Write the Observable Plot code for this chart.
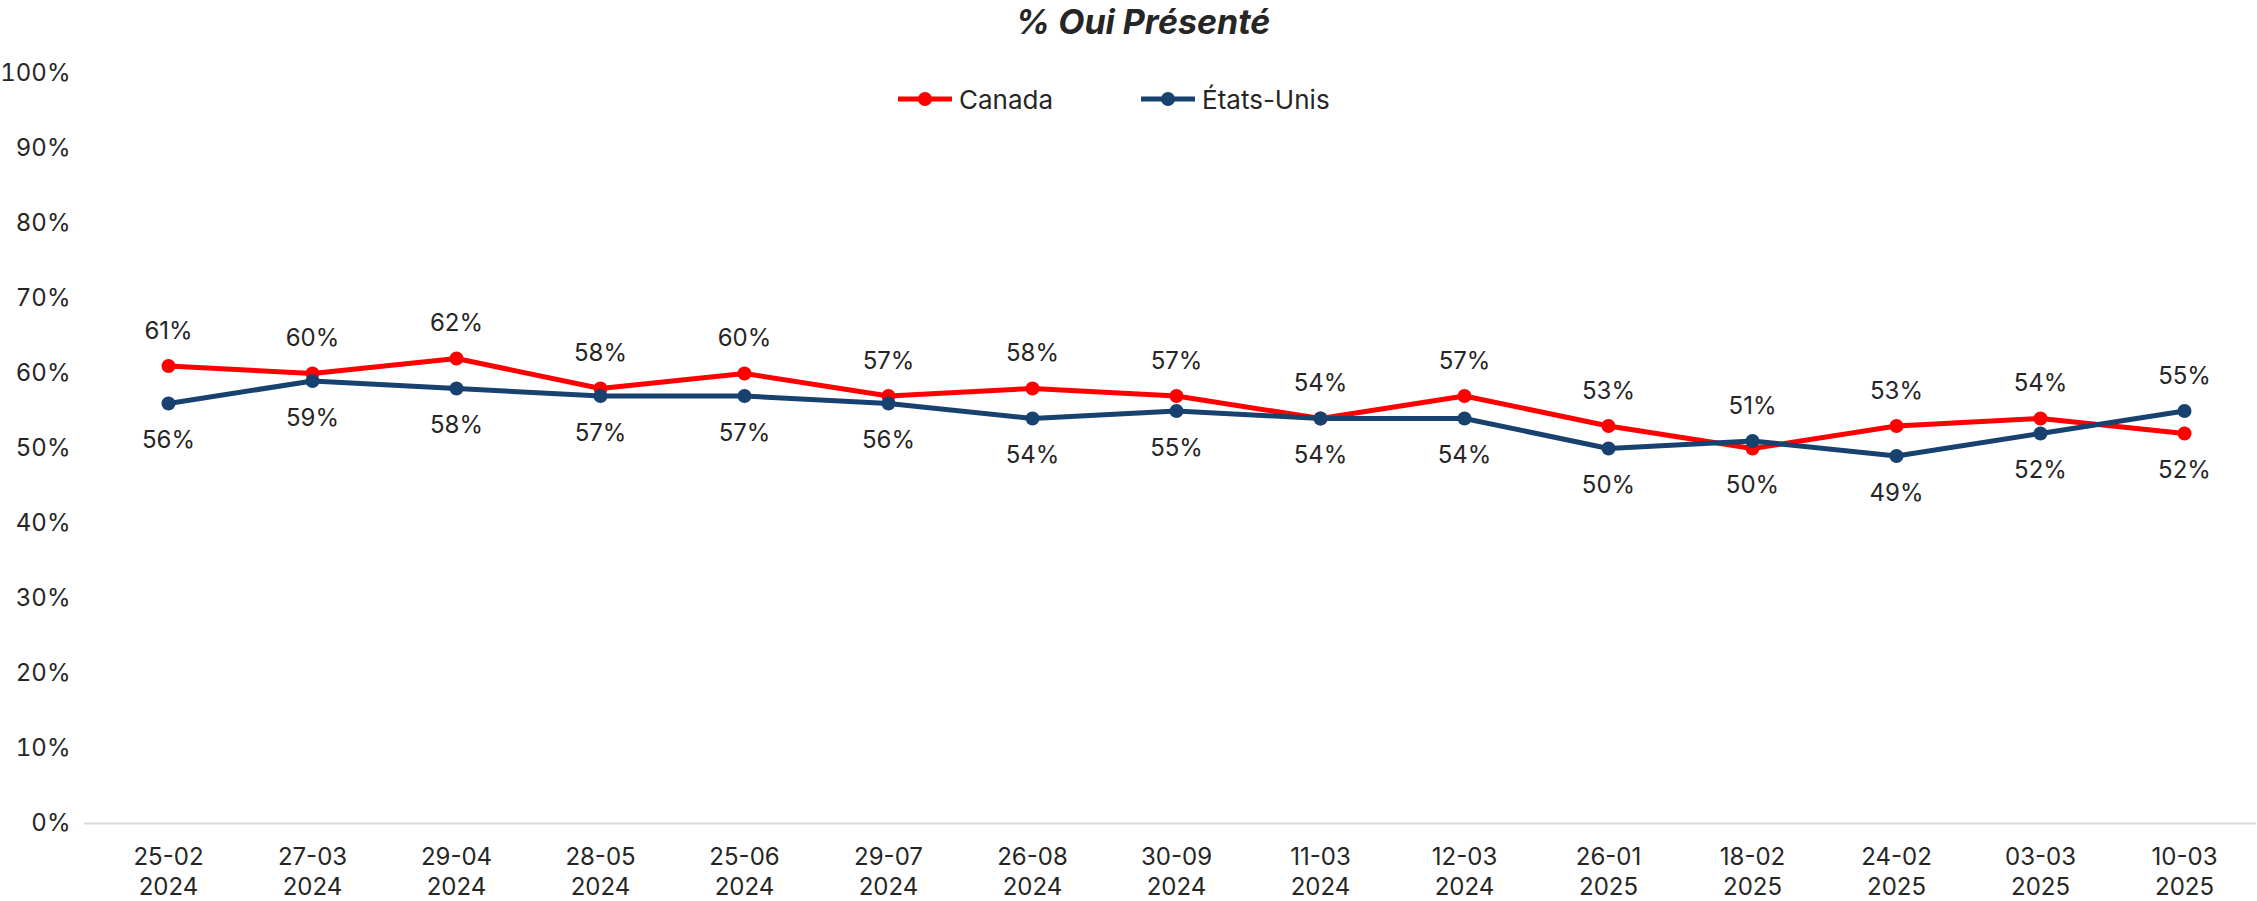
<!DOCTYPE html>
<html>
<head>
<meta charset="utf-8">
<script src="https://cdn.jsdelivr.net/npm/d3@7"></script>
<script src="https://cdn.jsdelivr.net/npm/@observablehq/plot@0.6"></script>
<style>
  html, body { margin: 0; padding: 0; background: #fff; }
  body { width: 2257px; height: 901px; position: relative; overflow: hidden; font-family: Inter, "Open Sans", sans-serif; color: #262626; }
  #title { height: 44px; line-height: 44px; text-align: center; font-size: 34px; font-weight: 700; font-style: italic; padding-left: 29px; }
  #legend { position: absolute; top: 82px; left: 898px; display: flex; align-items: center; font-size: 26px; height: 34px; }
  .item { display: flex; align-items: center; }
  .item svg { margin-right: 5px; }
</style>
</head>
<body>
<div id="title">% Oui Présenté</div>
<div id="legend"></div>
<div id="chart"></div>
<script>
const dates = ["25-02","27-03","29-04","28-05","25-06","29-07","26-08","30-09","11-03","12-03","26-01","18-02","24-02","03-03","10-03"];
const years = ["2024","2024","2024","2024","2024","2024","2024","2024","2024","2024","2025","2025","2025","2025","2025"];
const canada = [61,60,62,58,60,57,58,57,54,57,53,50,53,54,52];
const usa = [56,59,58,57,57,56,54,55,54,54,50,51,49,52,55];
const seriesNames = ["Canada", "États-Unis"];
const seriesColors = ["#ff0000", "#17416f"];

const keys = dates.map((d, i) => d + "\n" + years[i]);
const rows = [];
keys.forEach((k, i) => {
  rows.push({key: k, series: "Canada", value: canada[i] / 100, above: canada[i] >= usa[i]});
  rows.push({key: k, series: "États-Unis", value: usa[i] / 100, above: usa[i] > canada[i]});
});

const chart = Plot.plot({
  width: 2257,
  height: 857,
  marginLeft: 96,
  marginRight: 1,
  marginTop: 29,
  marginBottom: 78,
  style: {fontFamily: "Inter, 'Open Sans', sans-serif", fontSize: "24px", color: "#262626", background: "#fff"},
  x: {type: "band", domain: keys, padding: 0},
  y: {domain: [0, 1]},
  color: {domain: seriesNames, range: seriesColors},
  marks: [
    Plot.axisY({ticks: d3.range(0, 1.0001, 0.1), tickFormat: d3.format(".0%"), tickSize: 0, tickPadding: 26, fontSize: 24, label: null, fill: "#262626"}),
    Plot.axisX({tickSize: 0, tickPadding: 20, fontSize: 24, lineHeight: 1.25, label: null, fill: "#262626"}),
    Plot.ruleY([0], {stroke: "#d9d9d9", strokeWidth: 2, insetLeft: -12}),
    Plot.line(rows, {x: "key", y: "value", z: "series", stroke: "series", strokeWidth: 5}),
    Plot.dot(rows, {x: "key", y: "value", fill: "series", r: 7}),
    Plot.text(rows.filter(d => d.above), {x: "key", y: "value", text: d => Math.round(d.value * 100) + "%", dy: -35, fontSize: 24, fill: "#262626"}),
    Plot.text(rows.filter(d => !d.above), {x: "key", y: "value", text: d => Math.round(d.value * 100) + "%", dy: 37, fontSize: 24, fill: "#262626"})
  ]
});
document.getElementById("chart").appendChild(chart);

const legend = document.getElementById("legend");
seriesNames.forEach((name, i) => {
  const item = document.createElement("div");
  item.className = "item";
  if (i > 0) item.style.marginLeft = "88px";
  item.innerHTML = `<svg width="56" height="20"><line x1="0" y1="10" x2="54" y2="10" stroke="${seriesColors[i]}" stroke-width="5"/><circle cx="27" cy="10" r="7" fill="${seriesColors[i]}"/></svg><span>${name}</span>`;
  legend.appendChild(item);
});
</script>
</body>
</html>
